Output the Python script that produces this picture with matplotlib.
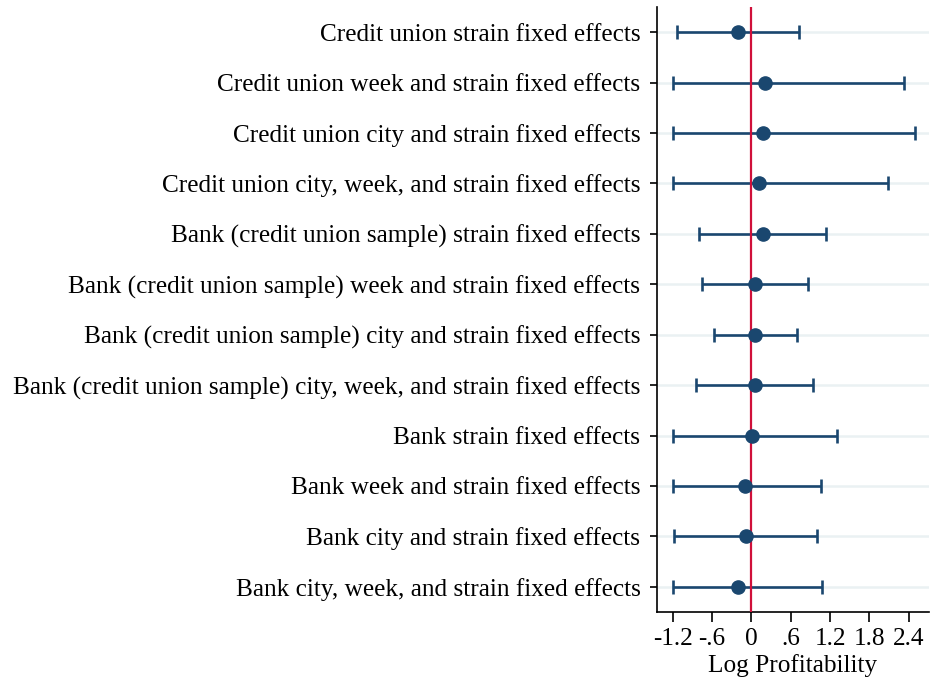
import matplotlib
matplotlib.use('Agg')
import matplotlib.pyplot as plt

labels = [
    'Credit union strain fixed effects',
    'Credit union week and strain fixed effects',
    'Credit union city and strain fixed effects',
    'Credit union city, week, and strain fixed effects',
    'Bank (credit union sample) strain fixed effects',
    'Bank (credit union sample) week and strain fixed effects',
    'Bank (credit union sample) city and strain fixed effects',
    'Bank (credit union sample) city, week, and strain fixed effects',
    'Bank strain fixed effects',
    'Bank week and strain fixed effects',
    'Bank city and strain fixed effects',
    'Bank city, week, and strain fixed effects',
]
coef = [-0.21, 0.20, 0.17, 0.12, 0.17, 0.05, 0.06, 0.05, 0.015, -0.10, -0.09, -0.20]
ci_low = [-1.14, -1.20, -1.20, -1.20, -0.80, -0.76, -0.57, -0.85, -1.20, -1.20, -1.18, -1.20]
ci_high = [0.72, 2.33, 2.49, 2.08, 1.13, 0.86, 0.69, 0.945, 1.30, 1.06, 1.00, 1.07]
xticks = [-1.2, -0.6, 0, 0.6, 1.2, 1.8, 2.4]
xtick_labels = ['-1.2', '-.6', '0', '.6', '1.2', '1.8', '2.4']

plt.rcParams['font.family'] = ['Liberation Serif', 'DejaVu Serif']

navy = '#1a476f'
fig = plt.figure(figsize=(9.3, 6.81), dpi=100)
ax = fig.add_axes([0.7065, 0.1013, 0.2925, 0.8884])

pos = list(range(1, len(labels) + 1))
for y in pos:
    ax.axhline(y, color='#eaf1f3', linewidth=1.8, zorder=0)

err_lo = [c - l for c, l in zip(coef, ci_low)]
err_hi = [h - c for c, h in zip(coef, ci_high)]
ax.errorbar(coef, pos, xerr=[err_lo, err_hi], fmt='none', ecolor=navy,
            elinewidth=1.9, capsize=5, capthick=1.9, zorder=2)
ax.axvline(0, color='#d0103a', linewidth=1.6, zorder=3)
ax.plot(coef, pos, 'o', color=navy, markersize=9.5, zorder=4)

ax.set_ylim(12.5, 0.5)
ax.set_xlim(-1.44, 2.71)
ax.set_yticks(pos)
ax.set_yticklabels(labels, fontsize=18.2)
ax.set_xticks(xticks)
ax.set_xticklabels(xtick_labels, fontsize=18.2)
ax.set_xlabel('Log Profitability', fontsize=18.2, labelpad=3)

ax.spines['top'].set_visible(False)
ax.spines['right'].set_visible(False)
ax.spines['left'].set_linewidth(1.2)
ax.spines['bottom'].set_linewidth(1.2)
ax.tick_params(axis='y', length=5, width=1.2, pad=7)
ax.tick_params(axis='x', length=7.2, width=1.2, pad=4)

fig.savefig('out.png', dpi=100)
